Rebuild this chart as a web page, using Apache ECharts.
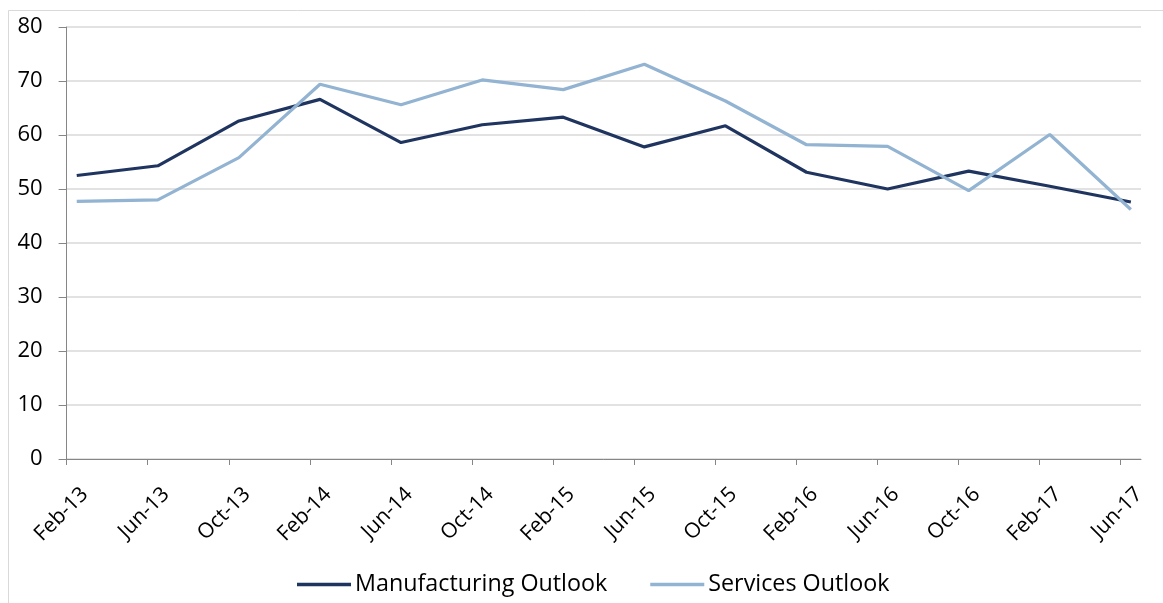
<!DOCTYPE html>
<html>
<head>
<meta charset="utf-8">
<script src="https://cdn.jsdelivr.net/npm/echarts@6/dist/echarts.min.js"></script>
<style>
  html, body { margin: 0; padding: 0; background: #fff; }
  #chart { width: 1163px; height: 603px; }
</style>
</head>
<body>
<div id="chart"></div>
<script>
// Survey months, one every four months from Feb-13 to Jun-17
const periods = ['Feb-13', 'Jun-13', 'Oct-13', 'Feb-14', 'Jun-14', 'Oct-14', 'Feb-15',
                 'Jun-15', 'Oct-15', 'Feb-16', 'Jun-16', 'Oct-16', 'Feb-17', 'Jun-17'];
const manufacturing = [52.5, 54.3, 62.6, 66.6, 58.6, 61.9, 63.3, 57.8, 61.7, 53.1, 50.0, 53.3, 50.5, 47.6];
const services      = [47.7, 48.0, 55.8, 69.4, 65.6, 70.2, 68.4, 73.1, 66.3, 58.2, 57.9, 49.7, 60.1, 46.2];
const yTicks = [0, 10, 20, 30, 40, 50, 60, 70, 80];

const MONTHS_PER_PERIOD = 4;
const TOTAL_MONTHS = periods.length * MONTHS_PER_PERIOD - 3; // Feb-13 .. Jun-17 inclusive
const LABEL_SHIFT = 0.9; // rotated labels hang just right of their tick

// Each reading sits in the middle of its month on a monthly date scale
const toPoints = vals => vals.map((v, i) => [i * MONTHS_PER_PERIOD + 0.5, v]);
const periodStarts = periods.map((_, i) => i * MONTHS_PER_PERIOD);

const FONT = 'Open Sans';
const chart = echarts.init(document.getElementById('chart'), null, { renderer: 'canvas' });

chart.setOption({
  animation: false,
  backgroundColor: '#ffffff',
  textStyle: { fontFamily: FONT },
  graphic: [{
    type: 'rect',
    shape: { x: 8.5, y: 10.5, width: 1300, height: 800 },
    style: { fill: 'none', stroke: '#d9d9d9', lineWidth: 1 },
    silent: true, z: -1
  }],
  grid: { left: 66.6, right: 22, top: 27, bottom: 144, containLabel: false },
  legend: {
    top: 568,
    left: 292,
    icon: 'rect',
    itemWidth: 54,
    itemHeight: 3.5,
    itemGap: 43,
    textStyle: { fontFamily: FONT, fontSize: 23.3, color: '#000', padding: [0, 0, 0, -1] },
    data: ['Manufacturing Outlook', 'Services Outlook']
  },
  xAxis: {
    type: 'value',
    min: 0,
    max: TOTAL_MONTHS,
    interval: MONTHS_PER_PERIOD,
    splitLine: { show: false },
    axisLine: { show: true, lineStyle: { color: '#868686', width: 1 } },
    axisTick: {
      show: true, length: 6, lineStyle: { color: '#868686' },
      customValues: periodStarts
    },
    axisLabel: {
      rotate: 45,
      margin: 32,
      fontFamily: FONT,
      fontSize: 21,
      color: '#000',
      customValues: periodStarts.map(v => v + LABEL_SHIFT),
      formatter: v => periods[Math.floor(v / MONTHS_PER_PERIOD)] || ''
    }
  },
  yAxis: {
    type: 'value',
    min: yTicks[0],
    max: yTicks[yTicks.length - 1],
    interval: yTicks[1] - yTicks[0],
    axisLine: { show: true, lineStyle: { color: '#868686', width: 1 } },
    axisTick: { show: true, length: 8, lineStyle: { color: '#868686' } },
    splitLine: { show: true, lineStyle: { color: '#d9d9d9', width: 1.5 } },
    axisLabel: { fontFamily: FONT, fontSize: 22, color: '#000', margin: 24 }
  },
  series: [
    {
      name: 'Manufacturing Outlook',
      type: 'line',
      data: toPoints(manufacturing),
      showSymbol: false,
      symbol: 'none',
      lineStyle: { color: '#1f3560', width: 3.2 },
      itemStyle: { color: '#1f3560' }
    },
    {
      name: 'Services Outlook',
      type: 'line',
      data: toPoints(services),
      showSymbol: false,
      symbol: 'none',
      lineStyle: { color: '#92b3d1', width: 3.2 },
      itemStyle: { color: '#92b3d1' }
    }
  ]
});
</script>
</body>
</html>
